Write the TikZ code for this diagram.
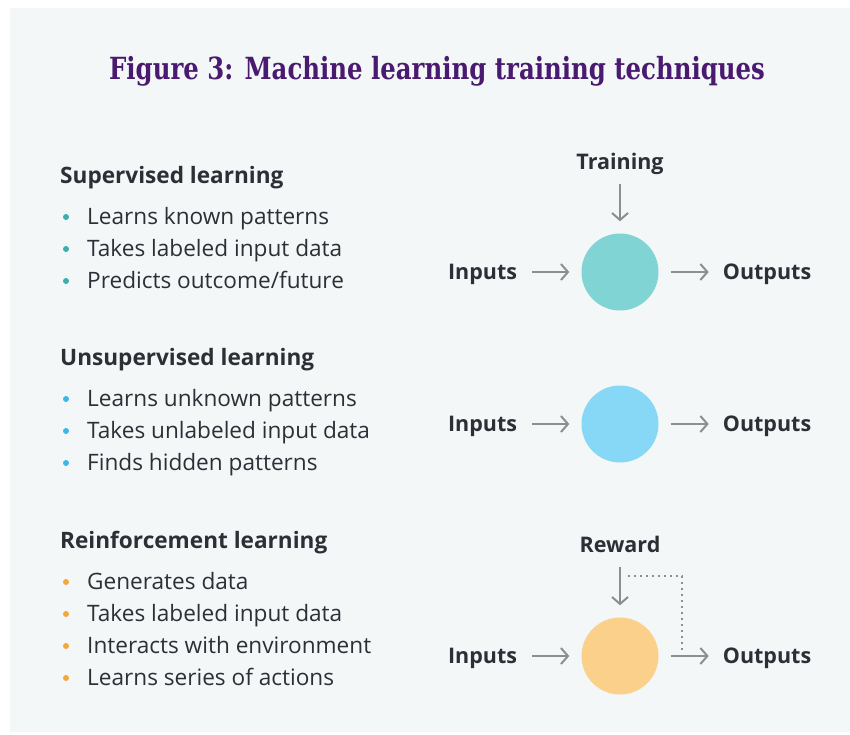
\documentclass[tikz,border=0pt]{standalone}
\usepackage{fontspec}
\setmainfont{Open Sans}
\newfontfamily\titlefont[FakeStretch=0.8]{DejaVu Serif}
\usetikzlibrary{arrows.meta,positioning}
\definecolor{bgcol}{HTML}{F3F7F8}
\definecolor{ink}{HTML}{2D2F36}
\definecolor{titlecol}{HTML}{4A1A70}
\definecolor{arrowgray}{HTML}{8E8E8E}
\definecolor{superfill}{HTML}{80D4D4}
\definecolor{unsuperfill}{HTML}{86D8F6}
\definecolor{reinffill}{HTML}{FBD08B}
\definecolor{superdot}{HTML}{3AAFB0}
\definecolor{unsuperdot}{HTML}{3BB8E8}
\definecolor{reinfdot}{HTML}{F5A83A}
\tikzstyle{flow}=[-{Straight Barb[length=7pt,width=16pt]},line width=2pt,draw=arrowgray]
\tikzstyle{feedback}=[line width=2pt,draw=arrowgray,dash pattern=on 2pt off 4pt]
\tikzstyle{lbl}=[font=\bfseries\fontsize{21.5}{25}\selectfont,text=ink,inner sep=0pt,text height=15pt,text depth=0pt]
\tikzstyle{item}=[font=\fontsize{22.6}{27}\selectfont,text=ink,anchor=base west,inner sep=0pt]
\tikzstyle{head}=[item,font=\bfseries\fontsize{22.6}{27}\selectfont]
\tikzstyle{unit}=[circle,minimum size=77pt,inner sep=0pt]
\tikzstyle{dot}=[circle,minimum size=6pt,inner sep=0pt]

\begin{document}
\begin{tikzpicture}[x=1pt,y=-1pt]
    \useasboundingbox (0,0) rectangle (850,734);
    \fill[white] (0,0) rectangle (850,734);
    \fill[bgcol] (10,8) rectangle (850,732);

    \node (title) [font=\titlefont\bfseries\fontsize{30.5}{36}\selectfont,text=titlecol] at (437,71) {Figure 3: Machine learning training techniques};

    % left column
    \node (h1) [head] at (60,183) {Supervised learning};
    \node (h2) [head] at (60,365) {Unsupervised learning};
    \node (h3) [head] at (60,548) {Reinforcement learning};
    \foreach \y/\txt in {224/Learns known patterns,256/Takes labeled input data,288/{Predicts outcome/future}} {
        \node [dot,fill=superdot] at (66,\y-7) {};
        \node [item] at (87,\y) {\txt};
    }
    \foreach \y/\txt in {406/Learns unknown patterns,438/Takes unlabeled input data,470/Finds hidden patterns} {
        \node [dot,fill=unsuperdot] at (66,\y-7) {};
        \node [item] at (87,\y) {\txt};
    }
    \foreach \y/\txt in {589/Generates data,621/Takes labeled input data,653/Interacts with environment,685/Learns series of actions} {
        \node [dot,fill=reinfdot] at (66,\y-7) {};
        \node [item] at (87,\y) {\txt};
    }

    % right column
    \node (c1) [unit,fill=superfill] at (620,272) {};
    \node (c2) [unit,fill=unsuperfill] at (620,424) {};
    \node (c3) [unit,fill=reinffill] at (620,656) {};

    \node (in1) [lbl,left=64pt of c1] {Inputs};
    \node (out1) [lbl,right=64pt of c1] {Outputs};
    \node (train) [lbl,above=64pt of c1] {Training};
    \node (in2) [lbl,left=64pt of c2] {Inputs};
    \node (out2) [lbl,right=64pt of c2] {Outputs};
    \node (in3) [lbl,left=64pt of c3] {Inputs};
    \node (out3) [lbl,right=64pt of c3] {Outputs};
    \node (reward) [lbl,above=65pt of c3] {Reward};

    \path[flow] (in1) edge [shorten <=15pt,shorten >=12pt] (c1);
    \path[flow] (c1) edge [shorten <=12pt,shorten >=14pt] (out1);
    \path[flow] (train) edge [shorten <=15pt,shorten >=12pt] (c1);
    \path[flow] (in2) edge [shorten <=15pt,shorten >=12pt] (c2);
    \path[flow] (c2) edge [shorten <=12pt,shorten >=14pt] (out2);
    \path[flow] (in3) edge [shorten <=15pt,shorten >=12pt] (c3);
    \path[flow] (c3) edge [shorten <=12pt,shorten >=14pt] (out3);
    \path[flow] (reward) edge [shorten <=15pt,shorten >=12pt] (c3);

    \coordinate (fbstart) at (628,576);
    \coordinate (fbend) at (682,651);
    \draw[feedback] (fbstart) -| (fbend);
\end{tikzpicture}
\end{document}
